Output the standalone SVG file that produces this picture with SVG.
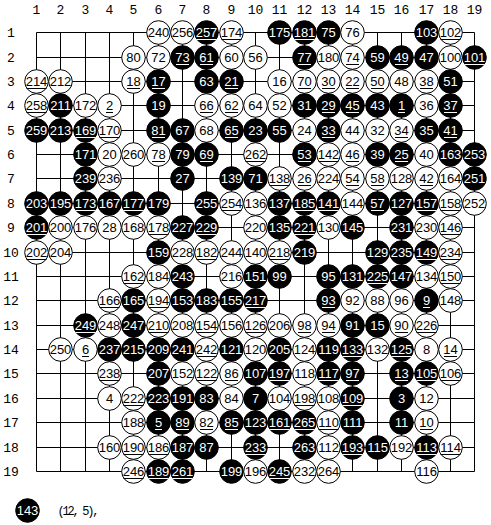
<svg xmlns="http://www.w3.org/2000/svg" xmlns:xlink="http://www.w3.org/1999/xlink" width="491" height="525" viewBox="0 0 491 525">
<style>
text{font-family:"Liberation Sans",Arial,sans-serif;font-size:13px;text-anchor:middle}
.lbl text{font-family:"Liberation Mono","DejaVu Sans Mono",monospace;font-size:13px;fill:#000}
#grid path{fill:none;stroke:#000;stroke-width:1}
.W circle{fill:#fff;stroke:#000;stroke-width:1}
.W text{fill:#000}
.W use{stroke:#000}
.B circle{fill:#000;stroke:#000;stroke-width:1}
.B text{fill:#fff}
.B use{stroke:#fff}
</style>
<defs>
<line id="u3" x1="-10" x2="10" y1="7" y2="7" stroke-width="1"/>
<line id="u2" x1="-6.5" x2="6.5" y1="7" y2="7" stroke-width="1"/>
<line id="u1" x1="-3.5" x2="3.5" y1="7" y2="7" stroke-width="1"/>
</defs>
<rect width="491" height="525" fill="#fff"/>
<g transform="translate(0.5,0.5)">
<g class="lbl" id="collabels">
<text x="36" y="13">1</text><text x="60" y="13">2</text><text x="85" y="13">3</text><text x="109" y="13">4</text><text x="133" y="13">5</text><text x="158" y="13">6</text><text x="182" y="13">7</text><text x="206" y="13">8</text><text x="231" y="13">9</text><text x="255" y="13">10</text><text x="279" y="13">11</text><text x="304" y="13">12</text><text x="328" y="13">13</text><text x="352" y="13">14</text><text x="377" y="13">15</text><text x="401" y="13">16</text><text x="426" y="13">17</text><text x="450" y="13">18</text><text x="474" y="13">19</text>
</g>
<g class="lbl" id="rowlabels">
<text x="10.5" y="36.5">1</text><text x="10.5" y="61.5">2</text><text x="10.5" y="85.5">3</text><text x="10.5" y="109.5">4</text><text x="10.5" y="134.5">5</text><text x="10.5" y="158.5">6</text><text x="10.5" y="182.5">7</text><text x="10.5" y="207.5">8</text><text x="10.5" y="231.5">9</text><text x="10.5" y="256.5">10</text><text x="10.5" y="280.5">11</text><text x="10.5" y="304.5">12</text><text x="10.5" y="329.5">13</text><text x="10.5" y="353.5">14</text><text x="10.5" y="377.5">15</text><text x="10.5" y="402.5">16</text><text x="10.5" y="426.5">17</text><text x="10.5" y="451.5">18</text><text x="10.5" y="475.5">19</text>
</g>
<g id="grid">
<path d="M36 32H474M36 57H474M36 81H474M36 105H474M36 130H474M36 154H474M36 178H474M36 203H474M36 227H474M36 252H474M36 276H474M36 300H474M36 325H474M36 349H474M36 373H474M36 398H474M36 422H474M36 447H474M36 471H474"/>
<path d="M36 32V471M60 32V471M85 32V471M109 32V471M133 32V471M158 32V471M182 32V471M206 32V471M231 32V471M255 32V471M279 32V471M304 32V471M328 32V471M352 32V471M377 32V471M401 32V471M426 32V471M450 32V471M474 32V471"/>
</g>
<g id="stones">
<!-- row 1 -->
<g id="m240" class="W" transform="translate(158,32)"><circle r="11.8"/><text y="4.5">240</text></g>
<g id="m256" class="W" transform="translate(182,32)"><circle r="11.8"/><text y="4.5">256</text></g>
<g id="m257" class="B" transform="translate(206,32)"><circle r="11.8"/><text y="4.5">257</text><use href="#u3"/></g>
<g id="m174" class="W" transform="translate(231,32)"><circle r="11.8"/><text y="4.5">174</text><use href="#u3"/></g>
<g id="m175" class="B" transform="translate(279,32)"><circle r="11.8"/><text y="4.5">175</text></g>
<g id="m181" class="B" transform="translate(304,32)"><circle r="11.8"/><text y="4.5">181</text><use href="#u3"/></g>
<g id="m75" class="B" transform="translate(328,32)"><circle r="11.8"/><text y="4.5">75</text></g>
<g id="m76" class="W" transform="translate(352,32)"><circle r="11.8"/><text y="4.5">76</text></g>
<g id="m103" class="B" transform="translate(426,32)"><circle r="11.8"/><text y="4.5">103</text></g>
<g id="m102" class="W" transform="translate(450,32)"><circle r="11.8"/><text y="4.5">102</text><use href="#u3"/></g>
<!-- row 2 -->
<g id="m80" class="W" transform="translate(133,57)"><circle r="11.8"/><text y="4.5">80</text></g>
<g id="m72" class="W" transform="translate(158,57)"><circle r="11.8"/><text y="4.5">72</text></g>
<g id="m73" class="B" transform="translate(182,57)"><circle r="11.8"/><text y="4.5">73</text><use href="#u2"/></g>
<g id="m61" class="B" transform="translate(206,57)"><circle r="11.8"/><text y="4.5">61</text><use href="#u2"/></g>
<g id="m60" class="W" transform="translate(231,57)"><circle r="11.8"/><text y="4.5">60</text></g>
<g id="m56" class="W" transform="translate(255,57)"><circle r="11.8"/><text y="4.5">56</text></g>
<g id="m77" class="B" transform="translate(304,57)"><circle r="11.8"/><text y="4.5">77</text><use href="#u2"/></g>
<g id="m180" class="W" transform="translate(328,57)"><circle r="11.8"/><text y="4.5">180</text></g>
<g id="m74" class="W" transform="translate(352,57)"><circle r="11.8"/><text y="4.5">74</text><use href="#u2"/></g>
<g id="m59" class="B" transform="translate(377,57)"><circle r="11.8"/><text y="4.5">59</text></g>
<g id="m49" class="B" transform="translate(401,57)"><circle r="11.8"/><text y="4.5">49</text><use href="#u2"/></g>
<g id="m47" class="B" transform="translate(426,57)"><circle r="11.8"/><text y="4.5">47</text></g>
<g id="m100" class="W" transform="translate(450,57)"><circle r="11.8"/><text y="4.5">100</text></g>
<g id="m101" class="B" transform="translate(474,57)"><circle r="11.8"/><text y="4.5">101</text><use href="#u3"/></g>
<!-- row 3 -->
<g id="m214" class="W" transform="translate(36,81)"><circle r="11.8"/><text y="4.5">214</text><use href="#u3"/></g>
<g id="m212" class="W" transform="translate(60,81)"><circle r="11.8"/><text y="4.5">212</text></g>
<g id="m18" class="W" transform="translate(133,81)"><circle r="11.8"/><text y="4.5">18</text><use href="#u2"/></g>
<g id="m17" class="B" transform="translate(158,81)"><circle r="11.8"/><text y="4.5">17</text><use href="#u2"/></g>
<g id="m63" class="B" transform="translate(206,81)"><circle r="11.8"/><text y="4.5">63</text></g>
<g id="m21" class="B" transform="translate(231,81)"><circle r="11.8"/><text y="4.5">21</text><use href="#u2"/></g>
<g id="m16" class="W" transform="translate(279,81)"><circle r="11.8"/><text y="4.5">16</text></g>
<g id="m70" class="W" transform="translate(304,81)"><circle r="11.8"/><text y="4.5">70</text><use href="#u2"/></g>
<g id="m30" class="W" transform="translate(328,81)"><circle r="11.8"/><text y="4.5">30</text><use href="#u2"/></g>
<g id="m22" class="W" transform="translate(352,81)"><circle r="11.8"/><text y="4.5">22</text><use href="#u2"/></g>
<g id="m50" class="W" transform="translate(377,81)"><circle r="11.8"/><text y="4.5">50</text><use href="#u2"/></g>
<g id="m48" class="W" transform="translate(401,81)"><circle r="11.8"/><text y="4.5">48</text></g>
<g id="m38" class="W" transform="translate(426,81)"><circle r="11.8"/><text y="4.5">38</text><use href="#u2"/></g>
<g id="m51" class="B" transform="translate(450,81)"><circle r="11.8"/><text y="4.5">51</text></g>
<!-- row 4 -->
<g id="m258" class="W" transform="translate(36,105)"><circle r="11.8"/><text y="4.5">258</text><use href="#u3"/></g>
<g id="m211" class="B" transform="translate(60,105)"><circle r="11.8"/><text y="4.5">211</text></g>
<g id="m172" class="W" transform="translate(85,105)"><circle r="11.8"/><text y="4.5">172</text></g>
<g id="m2" class="W" transform="translate(109,105)"><circle r="11.8"/><text y="4.5">2</text><use href="#u1"/></g>
<g id="m19" class="B" transform="translate(158,105)"><circle r="11.8"/><text y="4.5">19</text></g>
<g id="m66" class="W" transform="translate(206,105)"><circle r="11.8"/><text y="4.5">66</text><use href="#u2"/></g>
<g id="m62" class="W" transform="translate(231,105)"><circle r="11.8"/><text y="4.5">62</text><use href="#u2"/></g>
<g id="m64" class="W" transform="translate(255,105)"><circle r="11.8"/><text y="4.5">64</text></g>
<g id="m52" class="W" transform="translate(279,105)"><circle r="11.8"/><text y="4.5">52</text></g>
<g id="m31" class="B" transform="translate(304,105)"><circle r="11.8"/><text y="4.5">31</text></g>
<g id="m29" class="B" transform="translate(328,105)"><circle r="11.8"/><text y="4.5">29</text><use href="#u2"/></g>
<g id="m45" class="B" transform="translate(352,105)"><circle r="11.8"/><text y="4.5">45</text><use href="#u2"/></g>
<g id="m43" class="B" transform="translate(377,105)"><circle r="11.8"/><text y="4.5">43</text></g>
<g id="m1" class="B" transform="translate(401,105)"><circle r="11.8"/><text y="4.5">1</text><use href="#u1"/></g>
<g id="m36" class="W" transform="translate(426,105)"><circle r="11.8"/><text y="4.5">36</text></g>
<g id="m37" class="B" transform="translate(450,105)"><circle r="11.8"/><text y="4.5">37</text><use href="#u2"/></g>
<!-- row 5 -->
<g id="m259" class="B" transform="translate(36,130)"><circle r="11.8"/><text y="4.5">259</text></g>
<g id="m213" class="B" transform="translate(60,130)"><circle r="11.8"/><text y="4.5">213</text></g>
<g id="m169" class="B" transform="translate(85,130)"><circle r="11.8"/><text y="4.5">169</text><use href="#u3"/></g>
<g id="m170" class="W" transform="translate(109,130)"><circle r="11.8"/><text y="4.5">170</text><use href="#u3"/></g>
<g id="m81" class="B" transform="translate(158,130)"><circle r="11.8"/><text y="4.5">81</text><use href="#u2"/></g>
<g id="m67" class="B" transform="translate(182,130)"><circle r="11.8"/><text y="4.5">67</text></g>
<g id="m68" class="W" transform="translate(206,130)"><circle r="11.8"/><text y="4.5">68</text></g>
<g id="m65" class="B" transform="translate(231,130)"><circle r="11.8"/><text y="4.5">65</text><use href="#u2"/></g>
<g id="m23" class="B" transform="translate(255,130)"><circle r="11.8"/><text y="4.5">23</text></g>
<g id="m55" class="B" transform="translate(279,130)"><circle r="11.8"/><text y="4.5">55</text></g>
<g id="m24" class="W" transform="translate(304,130)"><circle r="11.8"/><text y="4.5">24</text></g>
<g id="m33" class="B" transform="translate(328,130)"><circle r="11.8"/><text y="4.5">33</text><use href="#u2"/></g>
<g id="m44" class="W" transform="translate(352,130)"><circle r="11.8"/><text y="4.5">44</text></g>
<g id="m32" class="W" transform="translate(377,130)"><circle r="11.8"/><text y="4.5">32</text></g>
<g id="m34" class="W" transform="translate(401,130)"><circle r="11.8"/><text y="4.5">34</text><use href="#u2"/></g>
<g id="m35" class="B" transform="translate(426,130)"><circle r="11.8"/><text y="4.5">35</text></g>
<g id="m41" class="B" transform="translate(450,130)"><circle r="11.8"/><text y="4.5">41</text><use href="#u2"/></g>
<!-- row 6 -->
<g id="m171" class="B" transform="translate(85,154)"><circle r="11.8"/><text y="4.5">171</text></g>
<g id="m20" class="W" transform="translate(109,154)"><circle r="11.8"/><text y="4.5">20</text></g>
<g id="m260" class="W" transform="translate(133,154)"><circle r="11.8"/><text y="4.5">260</text></g>
<g id="m78" class="W" transform="translate(158,154)"><circle r="11.8"/><text y="4.5">78</text><use href="#u2"/></g>
<g id="m79" class="B" transform="translate(182,154)"><circle r="11.8"/><text y="4.5">79</text></g>
<g id="m69" class="B" transform="translate(206,154)"><circle r="11.8"/><text y="4.5">69</text><use href="#u2"/></g>
<g id="m262" class="W" transform="translate(255,154)"><circle r="11.8"/><text y="4.5">262</text><use href="#u3"/></g>
<g id="m53" class="B" transform="translate(304,154)"><circle r="11.8"/><text y="4.5">53</text><use href="#u2"/></g>
<g id="m142" class="W" transform="translate(328,154)"><circle r="11.8"/><text y="4.5">142</text><use href="#u3"/></g>
<g id="m46" class="W" transform="translate(352,154)"><circle r="11.8"/><text y="4.5">46</text><use href="#u2"/></g>
<g id="m39" class="B" transform="translate(377,154)"><circle r="11.8"/><text y="4.5">39</text></g>
<g id="m25" class="B" transform="translate(401,154)"><circle r="11.8"/><text y="4.5">25</text><use href="#u2"/></g>
<g id="m40" class="W" transform="translate(426,154)"><circle r="11.8"/><text y="4.5">40</text></g>
<g id="m163" class="B" transform="translate(450,154)"><circle r="11.8"/><text y="4.5">163</text></g>
<g id="m253" class="B" transform="translate(474,154)"><circle r="11.8"/><text y="4.5">253</text></g>
<!-- row 7 -->
<g id="m239" class="B" transform="translate(85,178)"><circle r="11.8"/><text y="4.5">239</text></g>
<g id="m236" class="W" transform="translate(109,178)"><circle r="11.8"/><text y="4.5">236</text></g>
<g id="m27" class="B" transform="translate(182,178)"><circle r="11.8"/><text y="4.5">27</text></g>
<g id="m139" class="B" transform="translate(231,178)"><circle r="11.8"/><text y="4.5">139</text></g>
<g id="m71" class="B" transform="translate(255,178)"><circle r="11.8"/><text y="4.5">71</text></g>
<g id="m138" class="W" transform="translate(279,178)"><circle r="11.8"/><text y="4.5">138</text><use href="#u3"/></g>
<g id="m26" class="W" transform="translate(304,178)"><circle r="11.8"/><text y="4.5">26</text><use href="#u2"/></g>
<g id="m224" class="W" transform="translate(328,178)"><circle r="11.8"/><text y="4.5">224</text></g>
<g id="m54" class="W" transform="translate(352,178)"><circle r="11.8"/><text y="4.5">54</text><use href="#u2"/></g>
<g id="m58" class="W" transform="translate(377,178)"><circle r="11.8"/><text y="4.5">58</text><use href="#u2"/></g>
<g id="m128" class="W" transform="translate(401,178)"><circle r="11.8"/><text y="4.5">128</text></g>
<g id="m42" class="W" transform="translate(426,178)"><circle r="11.8"/><text y="4.5">42</text><use href="#u2"/></g>
<g id="m164" class="W" transform="translate(450,178)"><circle r="11.8"/><text y="4.5">164</text></g>
<g id="m251" class="B" transform="translate(474,178)"><circle r="11.8"/><text y="4.5">251</text></g>
<!-- row 8 -->
<g id="m203" class="B" transform="translate(36,203)"><circle r="11.8"/><text y="4.5">203</text></g>
<g id="m195" class="B" transform="translate(60,203)"><circle r="11.8"/><text y="4.5">195</text></g>
<g id="m173" class="B" transform="translate(85,203)"><circle r="11.8"/><text y="4.5">173</text><use href="#u3"/></g>
<g id="m167" class="B" transform="translate(109,203)"><circle r="11.8"/><text y="4.5">167</text></g>
<g id="m177" class="B" transform="translate(133,203)"><circle r="11.8"/><text y="4.5">177</text><use href="#u3"/></g>
<g id="m179" class="B" transform="translate(158,203)"><circle r="11.8"/><text y="4.5">179</text></g>
<g id="m255" class="B" transform="translate(206,203)"><circle r="11.8"/><text y="4.5">255</text></g>
<g id="m254" class="W" transform="translate(231,203)"><circle r="11.8"/><text y="4.5">254</text><use href="#u3"/></g>
<g id="m136" class="W" transform="translate(255,203)"><circle r="11.8"/><text y="4.5">136</text></g>
<g id="m137" class="B" transform="translate(279,203)"><circle r="11.8"/><text y="4.5">137</text></g>
<g id="m185" class="B" transform="translate(304,203)"><circle r="11.8"/><text y="4.5">185</text><use href="#u3"/></g>
<g id="m141" class="B" transform="translate(328,203)"><circle r="11.8"/><text y="4.5">141</text><use href="#u3"/></g>
<g id="m144" class="W" transform="translate(352,203)"><circle r="11.8"/><text y="4.5">144</text></g>
<g id="m57" class="B" transform="translate(377,203)"><circle r="11.8"/><text y="4.5">57</text><use href="#u2"/></g>
<g id="m127" class="B" transform="translate(401,203)"><circle r="11.8"/><text y="4.5">127</text></g>
<g id="m157" class="B" transform="translate(426,203)"><circle r="11.8"/><text y="4.5">157</text><use href="#u3"/></g>
<g id="m158" class="W" transform="translate(450,203)"><circle r="11.8"/><text y="4.5">158</text><use href="#u3"/></g>
<g id="m252" class="W" transform="translate(474,203)"><circle r="11.8"/><text y="4.5">252</text></g>
<!-- row 9 -->
<g id="m201" class="B" transform="translate(36,227)"><circle r="11.8"/><text y="4.5">201</text><use href="#u3"/></g>
<g id="m200" class="W" transform="translate(60,227)"><circle r="11.8"/><text y="4.5">200</text></g>
<g id="m176" class="W" transform="translate(85,227)"><circle r="11.8"/><text y="4.5">176</text></g>
<g id="m28" class="W" transform="translate(109,227)"><circle r="11.8"/><text y="4.5">28</text></g>
<g id="m168" class="W" transform="translate(133,227)"><circle r="11.8"/><text y="4.5">168</text></g>
<g id="m178" class="W" transform="translate(158,227)"><circle r="11.8"/><text y="4.5">178</text><use href="#u3"/></g>
<g id="m227" class="B" transform="translate(182,227)"><circle r="11.8"/><text y="4.5">227</text></g>
<g id="m229" class="B" transform="translate(206,227)"><circle r="11.8"/><text y="4.5">229</text><use href="#u3"/></g>
<g id="m220" class="W" transform="translate(255,227)"><circle r="11.8"/><text y="4.5">220</text></g>
<g id="m135" class="B" transform="translate(279,227)"><circle r="11.8"/><text y="4.5">135</text></g>
<g id="m221" class="B" transform="translate(304,227)"><circle r="11.8"/><text y="4.5">221</text><use href="#u3"/></g>
<g id="m130" class="W" transform="translate(328,227)"><circle r="11.8"/><text y="4.5">130</text></g>
<g id="m145" class="B" transform="translate(352,227)"><circle r="11.8"/><text y="4.5">145</text></g>
<g id="m231" class="B" transform="translate(401,227)"><circle r="11.8"/><text y="4.5">231</text></g>
<g id="m230" class="W" transform="translate(426,227)"><circle r="11.8"/><text y="4.5">230</text></g>
<g id="m146" class="W" transform="translate(450,227)"><circle r="11.8"/><text y="4.5">146</text><use href="#u3"/></g>
<!-- row 10 -->
<g id="m202" class="W" transform="translate(36,252)"><circle r="11.8"/><text y="4.5">202</text><use href="#u3"/></g>
<g id="m204" class="W" transform="translate(60,252)"><circle r="11.8"/><text y="4.5">204</text></g>
<g id="m159" class="B" transform="translate(158,252)"><circle r="11.8"/><text y="4.5">159</text></g>
<g id="m228" class="W" transform="translate(182,252)"><circle r="11.8"/><text y="4.5">228</text></g>
<g id="m182" class="W" transform="translate(206,252)"><circle r="11.8"/><text y="4.5">182</text><use href="#u3"/></g>
<g id="m244" class="W" transform="translate(231,252)"><circle r="11.8"/><text y="4.5">244</text></g>
<g id="m140" class="W" transform="translate(255,252)"><circle r="11.8"/><text y="4.5">140</text></g>
<g id="m218" class="W" transform="translate(279,252)"><circle r="11.8"/><text y="4.5">218</text><use href="#u3"/></g>
<g id="m219" class="B" transform="translate(304,252)"><circle r="11.8"/><text y="4.5">219</text></g>
<g id="m129" class="B" transform="translate(377,252)"><circle r="11.8"/><text y="4.5">129</text></g>
<g id="m235" class="B" transform="translate(401,252)"><circle r="11.8"/><text y="4.5">235</text></g>
<g id="m149" class="B" transform="translate(426,252)"><circle r="11.8"/><text y="4.5">149</text><use href="#u3"/></g>
<g id="m234" class="W" transform="translate(450,252)"><circle r="11.8"/><text y="4.5">234</text><use href="#u3"/></g>
<!-- row 11 -->
<g id="m162" class="W" transform="translate(133,276)"><circle r="11.8"/><text y="4.5">162</text><use href="#u3"/></g>
<g id="m184" class="W" transform="translate(158,276)"><circle r="11.8"/><text y="4.5">184</text></g>
<g id="m243" class="B" transform="translate(182,276)"><circle r="11.8"/><text y="4.5">243</text></g>
<g id="m216" class="W" transform="translate(231,276)"><circle r="11.8"/><text y="4.5">216</text></g>
<g id="m151" class="B" transform="translate(255,276)"><circle r="11.8"/><text y="4.5">151</text></g>
<g id="m99" class="B" transform="translate(279,276)"><circle r="11.8"/><text y="4.5">99</text></g>
<g id="m95" class="B" transform="translate(328,276)"><circle r="11.8"/><text y="4.5">95</text></g>
<g id="m131" class="B" transform="translate(352,276)"><circle r="11.8"/><text y="4.5">131</text></g>
<g id="m225" class="B" transform="translate(377,276)"><circle r="11.8"/><text y="4.5">225</text><use href="#u3"/></g>
<g id="m147" class="B" transform="translate(401,276)"><circle r="11.8"/><text y="4.5">147</text></g>
<g id="m134" class="W" transform="translate(426,276)"><circle r="11.8"/><text y="4.5">134</text></g>
<g id="m150" class="W" transform="translate(450,276)"><circle r="11.8"/><text y="4.5">150</text><use href="#u3"/></g>
<!-- row 12 -->
<g id="m166" class="W" transform="translate(109,300)"><circle r="11.8"/><text y="4.5">166</text><use href="#u3"/></g>
<g id="m165" class="B" transform="translate(133,300)"><circle r="11.8"/><text y="4.5">165</text></g>
<g id="m194" class="W" transform="translate(158,300)"><circle r="11.8"/><text y="4.5">194</text><use href="#u3"/></g>
<g id="m153" class="B" transform="translate(182,300)"><circle r="11.8"/><text y="4.5">153</text></g>
<g id="m183" class="B" transform="translate(206,300)"><circle r="11.8"/><text y="4.5">183</text></g>
<g id="m155" class="B" transform="translate(231,300)"><circle r="11.8"/><text y="4.5">155</text></g>
<g id="m217" class="B" transform="translate(255,300)"><circle r="11.8"/><text y="4.5">217</text><use href="#u3"/></g>
<g id="m93" class="B" transform="translate(328,300)"><circle r="11.8"/><text y="4.5">93</text><use href="#u2"/></g>
<g id="m92" class="W" transform="translate(352,300)"><circle r="11.8"/><text y="4.5">92</text></g>
<g id="m88" class="W" transform="translate(377,300)"><circle r="11.8"/><text y="4.5">88</text></g>
<g id="m96" class="W" transform="translate(401,300)"><circle r="11.8"/><text y="4.5">96</text></g>
<g id="m9" class="B" transform="translate(426,300)"><circle r="11.8"/><text y="4.5">9</text><use href="#u1"/></g>
<g id="m148" class="W" transform="translate(450,300)"><circle r="11.8"/><text y="4.5">148</text></g>
<!-- row 13 -->
<g id="m249" class="B" transform="translate(85,325)"><circle r="11.8"/><text y="4.5">249</text><use href="#u3"/></g>
<g id="m248" class="W" transform="translate(109,325)"><circle r="11.8"/><text y="4.5">248</text></g>
<g id="m247" class="B" transform="translate(133,325)"><circle r="11.8"/><text y="4.5">247</text></g>
<g id="m210" class="W" transform="translate(158,325)"><circle r="11.8"/><text y="4.5">210</text><use href="#u3"/></g>
<g id="m208" class="W" transform="translate(182,325)"><circle r="11.8"/><text y="4.5">208</text></g>
<g id="m154" class="W" transform="translate(206,325)"><circle r="11.8"/><text y="4.5">154</text><use href="#u3"/></g>
<g id="m156" class="W" transform="translate(231,325)"><circle r="11.8"/><text y="4.5">156</text></g>
<g id="m126" class="W" transform="translate(255,325)"><circle r="11.8"/><text y="4.5">126</text><use href="#u3"/></g>
<g id="m206" class="W" transform="translate(279,325)"><circle r="11.8"/><text y="4.5">206</text></g>
<g id="m98" class="W" transform="translate(304,325)"><circle r="11.8"/><text y="4.5">98</text><use href="#u2"/></g>
<g id="m94" class="W" transform="translate(328,325)"><circle r="11.8"/><text y="4.5">94</text><use href="#u2"/></g>
<g id="m91" class="B" transform="translate(352,325)"><circle r="11.8"/><text y="4.5">91</text></g>
<g id="m15" class="B" transform="translate(377,325)"><circle r="11.8"/><text y="4.5">15</text></g>
<g id="m90" class="W" transform="translate(401,325)"><circle r="11.8"/><text y="4.5">90</text><use href="#u2"/></g>
<g id="m226" class="W" transform="translate(426,325)"><circle r="11.8"/><text y="4.5">226</text><use href="#u3"/></g>
<!-- row 14 -->
<g id="m250" class="W" transform="translate(60,349)"><circle r="11.8"/><text y="4.5">250</text></g>
<g id="m6" class="W" transform="translate(85,349)"><circle r="11.8"/><text y="4.5">6</text><use href="#u1"/></g>
<g id="m237" class="B" transform="translate(109,349)"><circle r="11.8"/><text y="4.5">237</text></g>
<g id="m215" class="B" transform="translate(133,349)"><circle r="11.8"/><text y="4.5">215</text></g>
<g id="m209" class="B" transform="translate(158,349)"><circle r="11.8"/><text y="4.5">209</text></g>
<g id="m241" class="B" transform="translate(182,349)"><circle r="11.8"/><text y="4.5">241</text></g>
<g id="m242" class="W" transform="translate(206,349)"><circle r="11.8"/><text y="4.5">242</text><use href="#u3"/></g>
<g id="m121" class="B" transform="translate(231,349)"><circle r="11.8"/><text y="4.5">121</text></g>
<g id="m120" class="W" transform="translate(255,349)"><circle r="11.8"/><text y="4.5">120</text></g>
<g id="m205" class="B" transform="translate(279,349)"><circle r="11.8"/><text y="4.5">205</text></g>
<g id="m124" class="W" transform="translate(304,349)"><circle r="11.8"/><text y="4.5">124</text></g>
<g id="m119" class="B" transform="translate(328,349)"><circle r="11.8"/><text y="4.5">119</text></g>
<g id="m133" class="B" transform="translate(352,349)"><circle r="11.8"/><text y="4.5">133</text><use href="#u3"/></g>
<g id="m132" class="W" transform="translate(377,349)"><circle r="11.8"/><text y="4.5">132</text></g>
<g id="m125" class="B" transform="translate(401,349)"><circle r="11.8"/><text y="4.5">125</text><use href="#u3"/></g>
<g id="m8" class="W" transform="translate(426,349)"><circle r="11.8"/><text y="4.5">8</text></g>
<g id="m14" class="W" transform="translate(450,349)"><circle r="11.8"/><text y="4.5">14</text><use href="#u2"/></g>
<!-- row 15 -->
<g id="m238" class="W" transform="translate(109,373)"><circle r="11.8"/><text y="4.5">238</text><use href="#u3"/></g>
<g id="m207" class="B" transform="translate(158,373)"><circle r="11.8"/><text y="4.5">207</text></g>
<g id="m152" class="W" transform="translate(182,373)"><circle r="11.8"/><text y="4.5">152</text></g>
<g id="m122" class="W" transform="translate(206,373)"><circle r="11.8"/><text y="4.5">122</text><use href="#u3"/></g>
<g id="m86" class="W" transform="translate(231,373)"><circle r="11.8"/><text y="4.5">86</text><use href="#u2"/></g>
<g id="m107" class="B" transform="translate(255,373)"><circle r="11.8"/><text y="4.5">107</text></g>
<g id="m197" class="B" transform="translate(279,373)"><circle r="11.8"/><text y="4.5">197</text><use href="#u3"/></g>
<g id="m118" class="W" transform="translate(304,373)"><circle r="11.8"/><text y="4.5">118</text></g>
<g id="m117" class="B" transform="translate(328,373)"><circle r="11.8"/><text y="4.5">117</text><use href="#u3"/></g>
<g id="m97" class="B" transform="translate(352,373)"><circle r="11.8"/><text y="4.5">97</text><use href="#u2"/></g>
<g id="m13" class="B" transform="translate(401,373)"><circle r="11.8"/><text y="4.5">13</text><use href="#u2"/></g>
<g id="m105" class="B" transform="translate(426,373)"><circle r="11.8"/><text y="4.5">105</text><use href="#u3"/></g>
<g id="m106" class="W" transform="translate(450,373)"><circle r="11.8"/><text y="4.5">106</text><use href="#u3"/></g>
<!-- row 16 -->
<g id="m4" class="W" transform="translate(109,398)"><circle r="11.8"/><text y="4.5">4</text></g>
<g id="m222" class="W" transform="translate(133,398)"><circle r="11.8"/><text y="4.5">222</text><use href="#u3"/></g>
<g id="m223" class="B" transform="translate(158,398)"><circle r="11.8"/><text y="4.5">223</text></g>
<g id="m191" class="B" transform="translate(182,398)"><circle r="11.8"/><text y="4.5">191</text></g>
<g id="m83" class="B" transform="translate(206,398)"><circle r="11.8"/><text y="4.5">83</text></g>
<g id="m84" class="W" transform="translate(231,398)"><circle r="11.8"/><text y="4.5">84</text></g>
<g id="m7" class="B" transform="translate(255,398)"><circle r="11.8"/><text y="4.5">7</text></g>
<g id="m104" class="W" transform="translate(279,398)"><circle r="11.8"/><text y="4.5">104</text></g>
<g id="m198" class="W" transform="translate(304,398)"><circle r="11.8"/><text y="4.5">198</text><use href="#u3"/></g>
<g id="m108" class="W" transform="translate(328,398)"><circle r="11.8"/><text y="4.5">108</text></g>
<g id="m109" class="B" transform="translate(352,398)"><circle r="11.8"/><text y="4.5">109</text><use href="#u3"/></g>
<g id="m3" class="B" transform="translate(401,398)"><circle r="11.8"/><text y="4.5">3</text></g>
<g id="m12" class="W" transform="translate(426,398)"><circle r="11.8"/><text y="4.5">12</text></g>
<!-- row 17 -->
<g id="m188" class="W" transform="translate(133,422)"><circle r="11.8"/><text y="4.5">188</text></g>
<g id="m5" class="B" transform="translate(158,422)"><circle r="11.8"/><text y="4.5">5</text><use href="#u1"/></g>
<g id="m89" class="B" transform="translate(182,422)"><circle r="11.8"/><text y="4.5">89</text><use href="#u2"/></g>
<g id="m82" class="W" transform="translate(206,422)"><circle r="11.8"/><text y="4.5">82</text><use href="#u2"/></g>
<g id="m85" class="B" transform="translate(231,422)"><circle r="11.8"/><text y="4.5">85</text><use href="#u2"/></g>
<g id="m123" class="B" transform="translate(255,422)"><circle r="11.8"/><text y="4.5">123</text></g>
<g id="m161" class="B" transform="translate(279,422)"><circle r="11.8"/><text y="4.5">161</text><use href="#u3"/></g>
<g id="m265" class="B" transform="translate(304,422)"><circle r="11.8"/><text y="4.5">265</text><use href="#u3"/></g>
<g id="m110" class="W" transform="translate(328,422)"><circle r="11.8"/><text y="4.5">110</text><use href="#u3"/></g>
<g id="m111" class="B" transform="translate(352,422)"><circle r="11.8"/><text y="4.5">111</text></g>
<g id="m11" class="B" transform="translate(401,422)"><circle r="11.8"/><text y="4.5">11</text></g>
<g id="m10" class="W" transform="translate(426,422)"><circle r="11.8"/><text y="4.5">10</text><use href="#u2"/></g>
<!-- row 18 -->
<g id="m160" class="W" transform="translate(109,447)"><circle r="11.8"/><text y="4.5">160</text></g>
<g id="m190" class="W" transform="translate(133,447)"><circle r="11.8"/><text y="4.5">190</text><use href="#u3"/></g>
<g id="m186" class="W" transform="translate(158,447)"><circle r="11.8"/><text y="4.5">186</text><use href="#u3"/></g>
<g id="m187" class="B" transform="translate(182,447)"><circle r="11.8"/><text y="4.5">187</text></g>
<g id="m87" class="B" transform="translate(206,447)"><circle r="11.8"/><text y="4.5">87</text></g>
<g id="m233" class="B" transform="translate(255,447)"><circle r="11.8"/><text y="4.5">233</text><use href="#u3"/></g>
<g id="m263" class="B" transform="translate(304,447)"><circle r="11.8"/><text y="4.5">263</text></g>
<g id="m112" class="W" transform="translate(328,447)"><circle r="11.8"/><text y="4.5">112</text></g>
<g id="m193" class="B" transform="translate(352,447)"><circle r="11.8"/><text y="4.5">193</text><use href="#u3"/></g>
<g id="m115" class="B" transform="translate(377,447)"><circle r="11.8"/><text y="4.5">115</text></g>
<g id="m192" class="W" transform="translate(401,447)"><circle r="11.8"/><text y="4.5">192</text></g>
<g id="m113" class="B" transform="translate(426,447)"><circle r="11.8"/><text y="4.5">113</text><use href="#u3"/></g>
<g id="m114" class="W" transform="translate(450,447)"><circle r="11.8"/><text y="4.5">114</text><use href="#u3"/></g>
<!-- row 19 -->
<g id="m246" class="W" transform="translate(133,471)"><circle r="11.8"/><text y="4.5">246</text><use href="#u3"/></g>
<g id="m189" class="B" transform="translate(158,471)"><circle r="11.8"/><text y="4.5">189</text><use href="#u3"/></g>
<g id="m261" class="B" transform="translate(182,471)"><circle r="11.8"/><text y="4.5">261</text><use href="#u3"/></g>
<g id="m199" class="B" transform="translate(231,471)"><circle r="11.8"/><text y="4.5">199</text></g>
<g id="m196" class="W" transform="translate(255,471)"><circle r="11.8"/><text y="4.5">196</text></g>
<g id="m245" class="B" transform="translate(279,471)"><circle r="11.8"/><text y="4.5">245</text><use href="#u3"/></g>
<g id="m232" class="W" transform="translate(304,471)"><circle r="11.8"/><text y="4.5">232</text></g>
<g id="m264" class="W" transform="translate(328,471)"><circle r="11.8"/><text y="4.5">264</text></g>
<g id="m116" class="W" transform="translate(426,471)"><circle r="11.8"/><text y="4.5">116</text></g>
</g>
<g id="legend">
<g id="m143" class="B" transform="translate(27,510)"><circle r="11.8"/><text y="4.5">143</text></g>
<text x="57" y="514.5" style="text-anchor:start;font-family:'Liberation Mono','DejaVu Sans Mono',monospace;font-size:12px;fill:#000" textLength="42">(12, 5),</text>
</g>
</g>
</svg>
